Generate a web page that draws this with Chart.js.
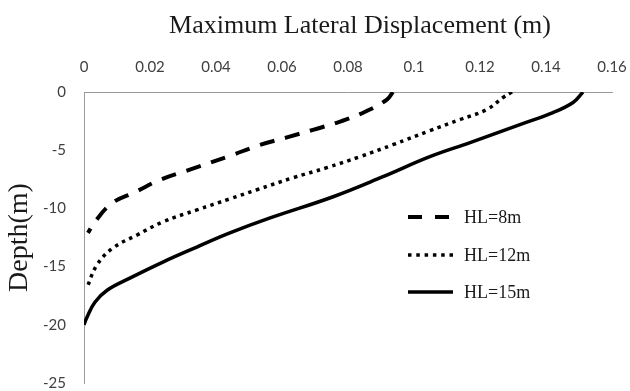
<!DOCTYPE html>
<html lang="en">
<head>
<meta charset="UTF-8">
<title>Maximum Lateral Displacement</title>
<script src="https://cdn.jsdelivr.net/npm/chart.js"></script>
<style>
  body { margin: 0; background: #fff; }
</style>
</head>
<body>
<canvas id="chart" width="630" height="391"></canvas>
<script>
// series
const seriesLabels = ['HL=8m', 'HL=12m', 'HL=15m'];

const disp8  = [0.0936, 0.0918, 0.0852, 0.0776, 0.0694, 0.0615, 0.0533, 0.0436, 0.0312, 0.0230, 0.0155, 0.0085, 0.0033, 0.0012];
const depth8 = [0, -0.65, -1.7, -2.55, -3.25, -3.9, -4.55, -5.55, -6.75, -7.55, -8.6, -9.55, -11.15, -12.1];

const disp12  = [0.1297, 0.1270, 0.1221, 0.1139, 0.1048, 0.0936, 0.0836, 0.0736, 0.0633, 0.0524, 0.0442, 0.0342, 0.0239, 0.0161, 0.0088, 0.0039, 0.0009];
const depth12 = [0, -0.47, -1.5, -2.37, -3.32, -4.53, -5.56, -6.5, -7.37, -8.4, -9.18, -10.13, -11.16, -12.28, -13.4, -14.87, -16.8];

const disp15  = [0.1512, 0.1482, 0.1421, 0.1321, 0.1170, 0.1048, 0.0906, 0.0755, 0.0564, 0.0442, 0.0342, 0.0239, 0.0139, 0.0070, 0.0033, 0.0009, 0];
const depth15 = [0, -0.9, -1.77, -2.8, -4.35, -5.56, -7.28, -9.0, -10.82, -12.11, -13.32, -14.61, -15.99, -17.03, -18.06, -19.35, -20];

const xTicks = [0, 0.02, 0.04, 0.06, 0.08, 0.1, 0.12, 0.14, 0.16];
const yTicks = [0, -5, -10, -15, -20, -25];

const toPoints = (xs, ys) => xs.map((x, i) => ({ x: x, y: ys[i] }));

// title on top and legend inside the plot
const extras = {
  id: 'extras',
  afterDraw(chart) {
    const ctx = chart.ctx;
    ctx.save();
    ctx.fillStyle = '#1a1a1a';
    ctx.font = '26px "Liberation Serif"';
    ctx.textAlign = 'center';
    ctx.textBaseline = 'alphabetic';
    ctx.fillText('Maximum Lateral Displacement (m)', 360, 33);

    const rows = [217, 255, 292];
    ctx.font = '18px "Liberation Serif"';
    ctx.textAlign = 'left';
    ctx.textBaseline = 'middle';
    chart.data.datasets.forEach((ds, i) => {
      ctx.strokeStyle = ds.borderColor;
      ctx.lineWidth = ds.borderWidth;
      ctx.setLineDash(ds.legendDash || []);
      ctx.beginPath();
      ctx.moveTo(408, rows[i]);
      ctx.lineTo(453, rows[i]);
      ctx.stroke();
      ctx.setLineDash([]);
      ctx.fillText(ds.label, 464, rows[i] + 1);
    });
    ctx.restore();
  }
};

new Chart(document.getElementById('chart'), {
  type: 'scatter',
  data: {
    datasets: [
      {
        label: seriesLabels[0],
        data: toPoints(disp8, depth8),
        borderColor: '#000', borderWidth: 4,
        borderDash: [15, 11], legendDash: [14, 13]
      },
      {
        label: seriesLabels[1],
        data: toPoints(disp12, depth12),
        borderColor: '#000', borderWidth: 3.5,
        borderDash: [3.5, 4.5], legendDash: [3.5, 4.8]
      },
      {
        label: seriesLabels[2],
        data: toPoints(disp15, depth15),
        borderColor: '#000', borderWidth: 3.5
      }
    ]
  },
  options: {
    responsive: false,
    animation: false,
    showLine: true,
    elements: {
      point: { radius: 0, hoverRadius: 0 },
      line: { tension: 0.4, fill: false }
    },
    layout: { padding: { left: 0, top: 0, right: 18, bottom: 8 } },
    plugins: {
      legend: { display: false },
      tooltip: { enabled: false }
    },
    scales: {
      x: {
        type: 'linear',
        position: 'top',
        min: 0, max: 0.16,
        afterBuildTicks: s => { s.ticks = xTicks.map(v => ({ value: v })); },
        afterFit: s => { s.height = 92; s.paddingLeft = 0; s.paddingRight = 0; },
        grid: { display: false, drawTicks: false },
        border: { display: true, color: '#9a9a9a', width: 1 },
        ticks: {
          padding: 16,
          color: '#404040',
          font: { family: 'Lato', size: 15 },
          callback: v => String(+v.toFixed(2))
        }
      },
      y: {
        type: 'linear',
        position: 'left',
        min: -25, max: 0,
        afterBuildTicks: s => { s.ticks = yTicks.map(v => ({ value: v })); },
        afterFit: s => { s.width = 84; s.paddingTop = 0; s.paddingBottom = 0; },
        grid: { display: false, drawTicks: false },
        border: { display: true, color: '#9a9a9a', width: 1 },
        ticks: {
          padding: 18,
          color: '#404040',
          font: { family: 'Lato', size: 15 }
        },
        title: {
          display: true,
          text: 'Depth(m)',
          color: '#1a1a1a',
          font: { family: 'Liberation Serif', size: 28 },
          padding: { top: 3, bottom: 0 }
        }
      }
    }
  },
  plugins: [extras]
});
</script>
</body>
</html>
